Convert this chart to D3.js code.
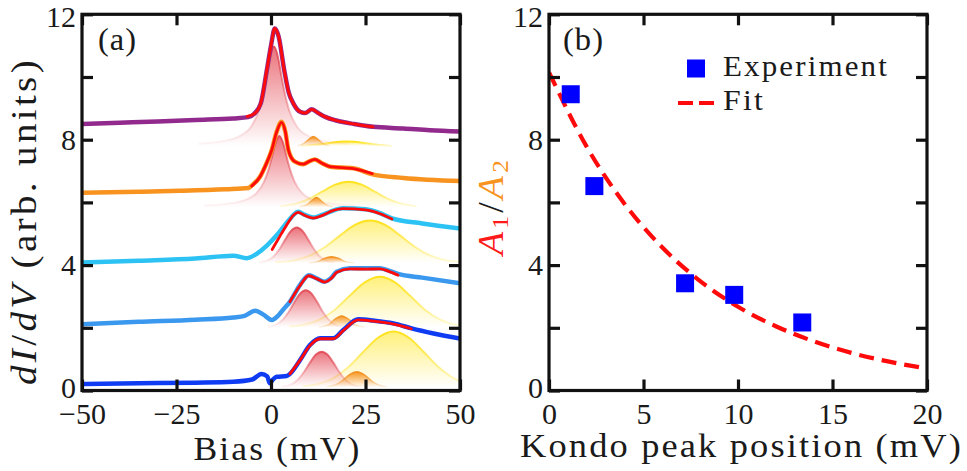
<!DOCTYPE html>
<html><head><meta charset="utf-8">
<script src="https://cdn.jsdelivr.net/npm/d3@7"></script>
<style>
body{margin:0;background:#fff}
svg{display:block}
text{font-family:"Liberation Serif","Times New Roman",serif;fill:#1a1a1a}
</style>
</head><body>
<svg id="c" width="967" height="471"></svg>
<script>
// ---------------- DATA ----------------
const biasTicks = [-50, -25, 0, 25, 50];
const dIdVTicks = [0, 2, 4, 6, 8, 10, 12];
const kondoTicks = [0, 5, 10, 15, 20];
const ratioTicks = [0, 2, 4, 6, 8, 10, 12];

// dI/dV spectra (Bias mV, arb. units)
const specPurple = [[-50,8.50],[-40,8.54],[-30,8.58],[-20,8.63],[-10,8.68],[-6,8.72],[-4.5,8.82],[-2.7,9.16],[-1.1,10.22],[0,11.0],[1,11.55],[2,11.3],[3.5,10.22],[4.7,9.5],[5.9,9.16],[7.7,8.89],[9,8.85],[10.8,8.97],[12.5,8.85],[14.5,8.72],[17,8.62],[22,8.5],[27,8.41],[35,8.36],[42,8.30],[50,8.26]];
const specOrange = [[-50,6.31],[-35,6.34],[-24,6.37],[-12,6.42],[-6,6.46],[-5,6.55],[-2.9,6.82],[-1,7.3],[0.2,7.67],[1.5,8.25],[2.8,8.57],[3.8,8.25],[4.6,7.67],[6.3,7.3],[8.5,7.22],[10,7.3],[11.6,7.37],[13.5,7.25],[15.6,7.14],[21.8,7.09],[26.6,6.9],[35,6.78],[50,6.68]];
const specCyan = [[-50,4.08],[-35,4.14],[-20,4.21],[-10,4.3],[-6.4,4.22],[-3.8,4.36],[-1.1,4.62],[1.5,4.95],[3.5,5.25],[5.2,5.5],[7.2,5.7],[9,5.6],[11.2,5.52],[13.5,5.6],[15.6,5.7],[19,5.81],[25,5.78],[29,5.65],[32,5.49],[40,5.33],[50,5.17]];
const specSky = [[-50,2.11],[-35,2.19],[-20,2.26],[-10,2.33],[-7,2.38],[-4.2,2.54],[-2,2.42],[0.2,2.25],[2,2.4],[3.5,2.62],[5,2.83],[7.7,3.37],[10,3.68],[12,3.58],[14.2,3.47],[16,3.6],[17.4,3.79],[20.9,3.9],[28.8,3.9],[31,3.83],[33.6,3.72],[40,3.6],[50,3.42]];
const specBlue = [[-50,0.21],[-35,0.23],[-20,0.25],[-10,0.28],[-5,0.35],[-2.5,0.53],[-1,0.45],[-0.3,0.23],[0.5,0.35],[1.5,0.44],[4.1,0.46],[5,0.53],[7.7,0.97],[10.3,1.45],[13,1.67],[16.5,1.67],[19.1,1.93],[23.1,2.27],[27.1,2.23],[32.4,2.14],[37.2,1.98],[43,1.82],[50,1.66]];

// red fit curves in (a)
const fitPurple = [[-6.3,8.74],[-4.5,8.82],[-2.7,9.16],[-1.1,10.22],[0,11.0],[1,11.55],[2,11.3],[3.5,10.22],[4.7,9.5],[5.9,9.16],[7.7,8.89],[9,8.85],[10.8,8.97],[12.5,8.85],[14.5,8.72],[17,8.62],[22,8.5],[27,8.41]];
const fitOrange = [[-5.1,6.52],[-2.9,6.82],[-1,7.3],[0.2,7.67],[1.5,8.25],[2.8,8.55],[3.8,8.25],[4.6,7.67],[6.3,7.3],[8.5,7.22],[10,7.3],[11.6,7.37],[13.5,7.25],[15.6,7.14],[21.8,7.08],[26.8,6.92]];
const fitCyan = [[0.3,4.5],[2,4.85],[4,5.25],[6,5.6],[7.2,5.68],[9,5.58],[11.2,5.5],[13.5,5.58],[16,5.72],[19,5.8],[25,5.76],[29,5.63],[32,5.47]];
const fitSky = [[5,2.83],[7.7,3.35],[10,3.66],[12,3.57],[14.2,3.46],[16,3.58],[17.4,3.77],[20.9,3.88],[25,3.87],[28.8,3.88],[31,3.81],[33.6,3.68]];
const fitBlue = [[5,0.53],[7.7,0.97],[10.3,1.43],[13,1.65],[16.5,1.65],[19.1,1.91],[23.1,2.25],[27.1,2.21],[32.4,2.12],[37.1,1.97]];

// baselines of the decomposed peaks
const peakBases = [7.8, 5.85, 4.07, 2.02, 0.1];

// Kondo (pink) peaks
const kondoPurple = [[-19.2,7.87],[-13.2,7.94],[-8.2,8.12],[-5.2,8.43],[-3.2,8.94],[-2.2,9.39],[-1.2,9.99],[-0.2,10.65],[0.8,10.97],[1.8,10.65],[2.8,9.99],[3.8,9.39],[4.8,8.94],[6.8,8.43],[9.8,8.12],[14.8,7.94],[20.8,7.87]];
const kondoOrange = [[-17.8,5.90],[-11.8,5.95],[-6.8,6.08],[-3.8,6.30],[-1.8,6.67],[-0.8,6.99],[0.2,7.42],[1.2,7.89],[2.2,8.12],[3.2,7.89],[4.2,7.42],[5.2,6.99],[6.2,6.67],[8.2,6.30],[11.2,6.08],[16.2,5.95],[22.2,5.90]];
const kondoCyan = [[-3.2,4.08],[-1.2,4.13],[0.8,4.29],[2.3,4.52],[3.8,4.82],[5.3,5.09],[6.8,5.2],[8.3,5.09],[9.8,4.82],[11.3,4.52],[12.8,4.29],[14.8,4.13],[16.8,4.08]];
const kondoSky = [[-0.8,2.035],[1.2,2.09],[3.2,2.27],[4.7,2.51],[6.2,2.82],[7.7,3.09],[9.2,3.2],[10.7,3.09],[12.2,2.82],[13.7,2.51],[15.2,2.27],[17.2,2.09],[19.2,2.035]];
const kondoBlue = [[2.9,0.116],[5.4,0.197],[7.4,0.384],[8.9,0.622],[10.4,0.906],[11.9,1.145],[13.4,1.24],[14.9,1.145],[16.4,0.906],[17.9,0.622],[19.4,0.384],[21.4,0.197],[23.9,0.116]];

// second (orange) peaks
const sidePurple = [[7,7.8],[8.5,7.87],[9.7,7.98],[11.2,8.1],[12.7,7.98],[13.9,7.87],[15.5,7.8]];
const sideOrange = [[7.5,5.85],[9.5,5.93],[10.8,6.06],[12,6.16],[13.2,6.06],[14.5,5.93],[16.5,5.85]];
const sideCyan = [[10,4.07],[12.5,4.12],[14,4.21],[16,4.27],[18,4.21],[19.5,4.12],[22,4.07]];
const sideSky = [[12.7,2.02],[15.2,2.1],[16.7,2.26],[18.7,2.38],[20.7,2.26],[22.2,2.1],[24.7,2.02]];
const sideBlue = [[14.7,0.115],[16.7,0.168],[18.2,0.26],[19.7,0.403],[21.2,0.541],[22.7,0.6],[24.2,0.541],[25.7,0.403],[27.2,0.26],[28.7,0.168],[30.7,0.115]];

// broad (yellow) peaks
const broadPurple = [[8,7.8],[12,7.84],[15,7.89],[20,7.94],[25,7.89],[28,7.84],[32,7.8]];
const broadOrange = [[2.5,5.88],[6.5,5.96],[10,6.11],[13.5,6.34],[17,6.565],[20.5,6.66],[24,6.565],[27.5,6.34],[31,6.11],[34.5,5.96],[38.5,5.88]];
const broadCyan = [[1.2,4.09],[6.2,4.155],[10.2,4.30],[14.2,4.57],[18.2,4.94],[22.2,5.28],[26.2,5.42],[30.2,5.28],[34.2,4.94],[38.2,4.57],[42.2,4.30],[46.2,4.155],[50,4.1]];
const broadSky = [[4.8,2.04],[8.8,2.10],[12.8,2.26],[16.8,2.57],[20.8,3.02],[24.8,3.45],[28.8,3.63],[32.8,3.45],[36.8,3.02],[40.8,2.57],[44.8,2.26],[48.8,2.10],[50,2.08]];
const broadBlue = [[8.4,0.13],[12.4,0.205],[16.4,0.39],[20.4,0.74],[24.4,1.23],[28.4,1.69],[32.4,1.88],[36.4,1.69],[40.4,1.23],[44.4,0.74],[48.4,0.39],[50,0.31]];

// panel (b)
const kondoPos = [1.15, 2.4, 7.2, 9.8, 13.4];
const ratioA1A2 = [9.45, 6.52, 3.42, 3.05, 2.17];
const fitPos = [0, 2, 4, 6, 8, 10, 12, 14, 16, 18, 20];
const fitRatio = [10.15, 7.77, 5.95, 4.56, 3.49, 2.67, 2.05, 1.57, 1.20, 0.92, 0.70];

// ---------------- DRAW ----------------
const svg = d3.select('#c');
const defs = svg.append('defs');

const xa = d3.scaleLinear().domain([-50, 50]).range([82, 460]);
const ya = d3.scaleLinear().domain([0, 12]).range([390.5, 14.3]);
const xb = d3.scaleLinear().domain([0, 20]).range([549, 927]);
const yb = d3.scaleLinear().domain([0, 12]).range([390.5, 14.3]);

defs.append('clipPath').attr('id', 'clipA').append('rect')
  .attr('x', 82).attr('y', 14.3).attr('width', 378).attr('height', 376.2);
defs.append('clipPath').attr('id', 'clipB').append('rect')
  .attr('x', 549).attr('y', 14.3).attr('width', 378).attr('height', 376.2);

function grad(id, color, o0, o1) {
  const g = defs.append('linearGradient').attr('id', id)
    .attr('x1', 0).attr('y1', 0).attr('x2', 0).attr('y2', 1);
  g.append('stop').attr('offset', 0).attr('stop-color', color).attr('stop-opacity', o0);
  g.append('stop').attr('offset', 1).attr('stop-color', color).attr('stop-opacity', o1);
}
grad('pinkF', '#e5505b', 0.8, 0.0);
grad('pinkS', '#e0404c', 0.85, 0.05);
grad('orF', '#f7901a', 0.95, 0.0);
grad('orS', '#f08a10', 0.9, 0.1);
grad('yeF', '#ffec55', 0.78, 0.0);
grad('yeS', '#ffe21a', 1.0, 0.15);

const gA = svg.append('g').attr('clip-path', 'url(#clipA)');

const sets = [
  {base: peakBases[0], kondo: kondoPurple, side: sidePurple, broad: broadPurple, spec: specPurple, fit: fitPurple, color: '#912a8c'},
  {base: peakBases[1], kondo: kondoOrange, side: sideOrange, broad: broadOrange, spec: specOrange, fit: fitOrange, color: '#f7931e'},
  {base: peakBases[2], kondo: kondoCyan, side: sideCyan, broad: broadCyan, spec: specCyan, fit: fitCyan, color: '#2cc3f4'},
  {base: peakBases[3], kondo: kondoSky, side: sideSky, broad: broadSky, spec: specSky, fit: fitSky, color: '#3a98ee'},
  {base: peakBases[4], kondo: kondoBlue, side: sideBlue, broad: broadBlue, spec: specBlue, fit: fitBlue, color: '#0f3cf2'}
];

function areaFor(base) {
  return d3.area().x(d => xa(d[0])).y0(ya(base)).y1(d => ya(d[1])).curve(d3.curveMonotoneX);
}
const topLine = d3.line().x(d => xa(d[0])).y(d => ya(d[1])).curve(d3.curveMonotoneX);

sets.forEach(s => {
  const ar = areaFor(s.base);
  [[s.broad, 'yeF', 'yeS', 2], [s.kondo, 'pinkF', 'pinkS', 2], [s.side, 'orF', 'orS', 1.5]].forEach(([pts, f, st, w]) => {
    gA.append('path').attr('d', ar(pts)).attr('fill', `url(#${f})`);
    gA.append('path').attr('d', topLine(pts)).attr('fill', 'none')
      .attr('stroke', `url(#${st})`).attr('stroke-width', w);
  });
});

sets.forEach(s => {
  gA.append('path').attr('d', topLine(s.spec)).attr('fill', 'none')
    .attr('stroke', s.color).attr('stroke-width', 4.5).attr('stroke-linejoin', 'round');
});
sets.forEach(s => {
  gA.append('path').attr('d', topLine(s.fit)).attr('fill', 'none')
    .attr('stroke', '#ff0a0a').attr('stroke-width', 2.8).attr('stroke-linecap', 'round');
});

// axes helper
function frameAxes(x, y, xTicks, yTicks, xFmt) {
  const g = svg.append('g');
  g.append('g').attr('transform', `translate(0,${y.range()[0]})`)
    .call(d3.axisBottom(x).tickValues(xTicks).tickSizeInner(-11).tickSizeOuter(0).tickPadding(12).tickFormat(xFmt));
  g.append('g').attr('transform', `translate(0,${y.range()[1]})`)
    .call(d3.axisTop(x).tickValues(xTicks).tickSizeInner(-11).tickSizeOuter(0).tickFormat(''));
  const yl = g.append('g').attr('transform', `translate(${x.range()[0]},0)`)
    .call(d3.axisLeft(y).tickValues(yTicks).tickSizeInner(-11).tickSizeOuter(0).tickPadding(6)
      .tickFormat(d => d % 4 === 0 ? d : ''));
  yl.selectAll('.tick text').attr('dy', d => d === 12 ? '0.42em' : (d === 0 ? '0.22em' : '0.32em'));
  g.append('g').attr('transform', `translate(${x.range()[1]},0)`)
    .call(d3.axisRight(y).tickValues(yTicks).tickSizeInner(-11).tickSizeOuter(0).tickFormat(''));
  g.selectAll('.domain').remove();
  g.selectAll('.tick line').attr('stroke', '#111').attr('stroke-width', 3.2);
  g.selectAll('.tick text').attr('font-size', 30).attr('font-family', '"Liberation Serif",serif').attr('fill', '#1a1a1a');
  g.append('rect').attr('x', x.range()[0]).attr('y', y.range()[1])
    .attr('width', x.range()[1] - x.range()[0]).attr('height', y.range()[0] - y.range()[1])
    .attr('fill', 'none').attr('stroke', '#111').attr('stroke-width', 3.2);
}
frameAxes(xa, ya, biasTicks, dIdVTicks, d3.format('d'));

// panel (b)
const gB = svg.append('g').attr('clip-path', 'url(#clipB)');
const fitLine = d3.line().x(d => xb(d[0])).y(d => yb(d[1])).curve(d3.curveMonotoneX);
gB.append('path').attr('d', fitLine(fitPos.map((p, i) => [p, fitRatio[i]])))
  .attr('fill', 'none').attr('stroke', '#ff0a0a').attr('stroke-width', 4.2).attr('stroke-dasharray', '15,8');
gB.selectAll('rect.pt').data(kondoPos.map((p, i) => [p, ratioA1A2[i]])).enter().append('rect')
  .attr('class', 'pt').attr('x', d => xb(d[0]) - 9).attr('y', d => yb(d[1]) - 9)
  .attr('width', 18).attr('height', 18).attr('fill', '#0000ff');
frameAxes(xb, yb, kondoTicks, ratioTicks, d3.format('d'));

// legend
svg.append('rect').attr('x', 687).attr('y', 59.5).attr('width', 18).attr('height', 18).attr('fill', '#0000ff');
svg.append('text').attr('x', 723).attr('y', 76).attr('font-size', 29).attr('letter-spacing', 2)
  .attr('textLength', 166).attr('lengthAdjust', 'spacingAndGlyphs').text('Experiment');
svg.append('line').attr('x1', 678).attr('x2', 714).attr('y1', 103).attr('y2', 103)
  .attr('stroke', '#ff0a0a').attr('stroke-width', 4.2).attr('stroke-dasharray', '15,6');
svg.append('text').attr('x', 723).attr('y', 110).attr('font-size', 29).attr('letter-spacing', 2)
  .attr('textLength', 42).attr('lengthAdjust', 'spacingAndGlyphs').text('Fit');

// panel labels
svg.append('text').attr('x', 98).attr('y', 50).attr('font-size', 32).attr('letter-spacing', 1)
  .attr('textLength', 39).attr('lengthAdjust', 'spacingAndGlyphs').text('(a)');
svg.append('text').attr('x', 563).attr('y', 50).attr('font-size', 32).attr('letter-spacing', 1)
  .attr('textLength', 41).attr('lengthAdjust', 'spacingAndGlyphs').text('(b)');

// axis titles
svg.append('text').attr('x', 277.5).attr('y', 460).attr('text-anchor', 'middle').attr('font-size', 34)
  .attr('letter-spacing', 2).attr('textLength', 168).attr('lengthAdjust', 'spacingAndGlyphs').text('Bias (mV)');
svg.append('text').attr('x', 741.5).attr('y', 457).attr('text-anchor', 'middle').attr('font-size', 34)
  .attr('letter-spacing', 2).attr('textLength', 443).attr('lengthAdjust', 'spacingAndGlyphs').text('Kondo peak position (mV)');

const yt = svg.append('text').attr('transform', 'translate(36,221) rotate(-90)')
  .attr('text-anchor', 'middle').attr('font-size', 35).attr('letter-spacing', 3)
  .attr('textLength', 328).attr('lengthAdjust', 'spacingAndGlyphs');
yt.append('tspan').attr('font-style', 'italic').text('dI');
yt.append('tspan').text('/');
yt.append('tspan').attr('font-style', 'italic').text('dV');
yt.append('tspan').text(' (arb. units)');

const yt2 = svg.append('text').attr('transform', 'translate(503,206) rotate(-90)')
  .attr('text-anchor', 'middle').attr('font-size', 36).attr('letter-spacing', 3)
  .attr('textLength', 98).attr('lengthAdjust', 'spacingAndGlyphs');
yt2.append('tspan').attr('font-style', 'italic').attr('fill', '#ff1a1a').text('A');
yt2.append('tspan').attr('font-size', 24).attr('dy', 5).attr('fill', '#ff1a1a').text('1');
yt2.append('tspan').attr('dy', -5).attr('fill', '#1a1a1a').text('/');
yt2.append('tspan').attr('font-style', 'italic').attr('fill', '#f7931e').text('A');
yt2.append('tspan').attr('font-size', 24).attr('dy', 5).attr('fill', '#f7931e').text('2');
</script>
</body></html>
